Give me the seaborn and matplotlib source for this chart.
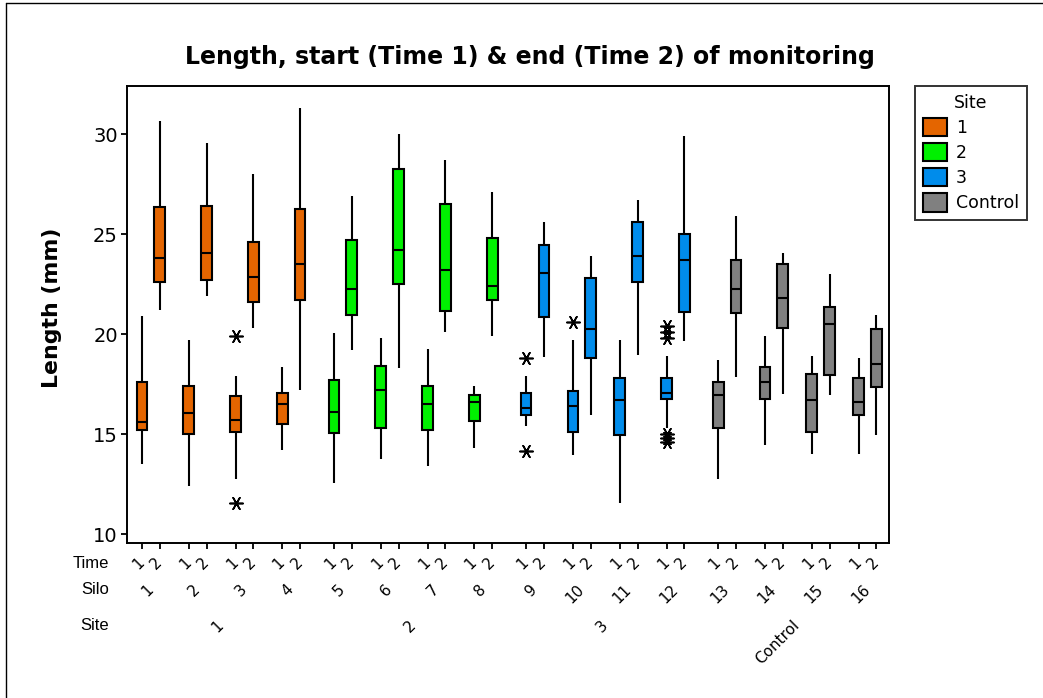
import pandas as pd
import seaborn as sns
import matplotlib.pyplot as plt
from matplotlib import transforms
from matplotlib.lines import Line2D

sites = ["1", "2", "3", "Control"]
silos = list(range(1, 17))
times = [1, 2]

# five-number summaries
# order: silo 1 time 1, silo 1 time 2, silo 2 time 1, ...
low = [13.5, 21.2, 12.4, 21.9, 12.75, 20.3, 14.2, 17.2,
       12.55, 19.2, 13.75, 18.3, 13.4, 20.1, 14.3, 19.9,
       15.4, 18.85, 13.95, 15.95, 11.55, 18.95, 15.3, 19.65,
       12.75, 17.85, 14.45, 17.0, 14.0, 16.95, 14.0, 14.95]
q1 = [15.2, 22.6, 15.0, 22.7, 15.1, 21.6, 15.5, 21.7,
      15.05, 20.95, 15.3, 22.5, 15.2, 21.15, 15.65, 21.7,
      15.95, 20.85, 15.1, 18.8, 14.95, 22.6, 16.75, 21.1,
      15.3, 21.05, 16.75, 20.3, 15.1, 17.95, 15.95, 17.35]
med = [15.6, 23.8, 16.05, 24.05, 15.7, 22.85, 16.5, 23.5,
       16.1, 22.25, 17.2, 24.2, 16.5, 23.2, 16.6, 22.4,
       16.3, 23.05, 16.4, 20.25, 16.7, 23.9, 17.05, 23.7,
       16.95, 22.25, 17.6, 21.8, 16.7, 20.5, 16.6, 18.5]
q3 = [17.6, 26.35, 17.4, 26.4, 16.9, 24.6, 17.05, 26.25,
      17.7, 24.7, 18.4, 28.25, 17.4, 26.5, 16.95, 24.8,
      17.05, 24.45, 17.15, 22.8, 17.8, 25.6, 17.8, 25.0,
      17.6, 23.7, 18.35, 23.5, 18.0, 21.35, 17.8, 20.25]
high = [20.9, 30.65, 19.7, 29.55, 17.9, 28.0, 18.35, 31.3,
        20.05, 26.9, 19.8, 30.0, 19.25, 28.7, 17.4, 27.1,
        17.9, 25.6, 19.7, 23.9, 19.7, 26.7, 18.9, 29.9,
        18.7, 25.9, 19.9, 24.05, 18.9, 23.0, 18.8, 20.95]

# outliers (asterisks)
out_silo = [3, 3, 9, 9, 10, 12, 12, 12, 12, 12, 12]
out_time = [1, 1, 1, 1, 1, 1, 1, 1, 1, 1, 1]
out_val = [19.9, 11.55, 18.8, 14.15, 20.6, 20.4, 20.1, 19.8, 15.0, 14.8, 14.6]

palette = {"1": "#E46500", "2": "#00F000", "3": "#008CEB", "Control": "#808080"}

SILO_STEP = 2.63
SITE_GAP = 0.275


def xpos(silo, time):
    i = silo - 1
    return i * SILO_STEP + (i // 4) * SITE_GAP + (time - 1)


rows = []
k = 0
for s in silos:
    for t in times:
        for v in (low[k], q1[k], med[k], q3[k], high[k]):
            rows.append({"x": xpos(s, t), "Length": v, "Site": sites[(s - 1) // 4]})
        k += 1
df = pd.DataFrame(rows)
outl = pd.DataFrame({"x": [xpos(s, t) for s, t in zip(out_silo, out_time)],
                     "Length": out_val})

sns.set_theme(style="ticks")
plt.rcParams["font.family"] = ["DejaVu Sans"]
for key in ["text.color", "axes.labelcolor", "xtick.color", "ytick.color"]:
    plt.rcParams[key] = "black"

W, H = 1043, 698
fig = plt.figure(figsize=(W / 100, H / 100), dpi=100)
ax = fig.add_axes([127 / W, 1 - 542.7 / H, (889.3 - 127) / W, (542.7 - 86) / H])

sns.boxplot(data=df, x="x", y="Length", hue="Site", hue_order=sites,
            palette=palette, native_scale=True, whis=(0, 100), width=0.6,
            linecolor="black", linewidth=1.5, saturation=1, showcaps=False, ax=ax)
sns.scatterplot(data=outl, x="x", y="Length", marker=(6, 2, 30), s=90,
                color="black", linewidth=1.2, legend=False, ax=ax)

ax.set_xlim(-0.84, 42.0)
ax.set_ylim(9.58, 32.42)
ax.set_yticks([10, 15, 20, 25, 30])
ax.set_xticks([xpos(s, t) for s in silos for t in times])
ax.set_xticklabels([])
ax.set_xlabel("")
ax.set_ylabel("")
ax.tick_params(length=4.5, width=1.3, labelsize=14, colors="black", pad=2)
for sp in ax.spines.values():
    sp.set_visible(True)
    sp.set_linewidth(1.4)
    sp.set_color("black")

sns.move_legend(ax, "upper left", bbox_to_anchor=(915 / W, 1 - 86 / H),
                bbox_transform=fig.transFigure, title="Site", frameon=True,
                fontsize=12.5, title_fontsize=12.5, handlelength=1.4,
                handleheight=1.25, labelspacing=0.35, borderpad=0.45,
                handletextpad=0.5, borderaxespad=0, fancybox=False,
                edgecolor="black")
ax.get_legend().get_frame().set_linewidth(1.4)

# three-level category axis
tr = transforms.blended_transform_factory(ax.transData, fig.transFigure)
for s in silos:
    for t in times:
        ax.text(xpos(s, t), 1 - 560 / H, str(t), transform=tr, rotation=45,
                ha="right", va="center", rotation_mode="anchor", fontsize=11)
    ax.text(xpos(s, 1) + 0.5, 1 - 587 / H, str(s), transform=tr, rotation=45,
            ha="right", va="center", rotation_mode="anchor", fontsize=11)
for j, site in enumerate(sites):
    centre = (xpos(4 * j + 1, 1) + xpos(4 * j + 4, 2)) / 2
    ax.text(centre, 1 - 623 / H, site, transform=tr, rotation=45,
            ha="right", va="center", rotation_mode="anchor", fontsize=11)
for name, yy in [("Time", 564), ("Silo", 590), ("Site", 626)]:
    fig.text(109 / W, 1 - yy / H, name, ha="right", va="center",
             fontsize=12, family=["Liberation Sans", "DejaVu Sans"])

fig.text(51.7 / W, 1 - 308 / H, "Length (mm)", rotation=90, ha="center",
         va="center", fontsize=15.8, fontweight="bold")
fig.text(529.5 / W, 1 - 57 / H, "Length, start (Time 1) & end (Time 2) of monitoring",
         ha="center", va="center", fontsize=17, fontweight="bold")

# outer frame of the graph window
fig.add_artist(Line2D([6 / W, 6 / W], [0, 1 - 2.5 / H], transform=fig.transFigure,
                      color="black", lw=1))
fig.add_artist(Line2D([6 / W, 1], [1 - 2.5 / H, 1 - 2.5 / H], transform=fig.transFigure,
                      color="black", lw=1))

fig.savefig("out.png", dpi=100)
